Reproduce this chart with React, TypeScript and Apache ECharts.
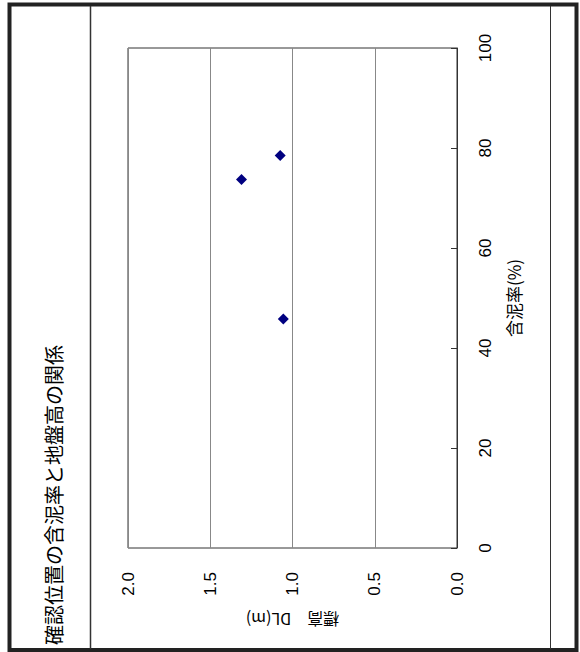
import React, { useEffect, useRef } from "react";
import * as echarts from "echarts";

const titleText = "確認位置の含泥率と地盤高の関係";
const elevation = [1.075, 1.31, 1.056]; // 標高 DL(m)
const mudRate = [78.5, 73.7, 45.8]; // 含泥率(%)
const elevationTicks = [0, 0.5, 1.0, 1.5, 2.0];
const mudTicks = [0, 20, 40, 60, 80, 100];

const NUM_FONT = "'Liberation Sans', Arial, sans-serif";
const JP_FONT = "'Noto Sans CJK JP', sans-serif";

export default function App() {
  const ref = useRef<HTMLDivElement>(null);
  useEffect(() => {
    if (!ref.current) return;
    const chart = echarts.init(ref.current, undefined, { renderer: "svg" });
    const points = elevation.map((e, i) => [e, mudRate[i]]);
    chart.setOption({
      animation: false,
      backgroundColor: "#ffffff",
      grid: {
        left: 128,
        top: 48,
        right: 123,
        bottom: 104,
        show: true,
        borderColor: "#333333",
        borderWidth: 1,
        backgroundColor: "transparent",
      },
      xAxis: {
        type: "value",
        min: elevationTicks[0],
        max: elevationTicks[elevationTicks.length - 1],
        interval: 0.5,
        inverse: true,
        position: "bottom",
        axisLine: { show: false },
        axisTick: { show: false },
        splitLine: { show: true, lineStyle: { color: "#888888", width: 1 } },
        axisLabel: {
          rotate: 90,
          margin: 24,
          fontSize: 17,
          fontFamily: NUM_FONT,
          color: "#000",
          formatter: (v: number) => v.toFixed(1),
        },
        name: "標高　DL(m)",
        nameLocation: "middle",
        nameRotate: 180,
        nameGap: 64,
        nameTextStyle: {
          fontSize: 16,
          fontFamily: JP_FONT,
          color: "#000",
        },
      },
      yAxis: {
        type: "value",
        min: mudTicks[0],
        max: mudTicks[mudTicks.length - 1],
        interval: 20,
        position: "right",
        axisLine: { show: true, lineStyle: { color: "#333333", width: 1 } },
        axisTick: { show: true, inside: true, length: 6, lineStyle: { color: "#333333" } },
        splitLine: { show: false },
        axisLabel: {
          rotate: 90,
          margin: 20,
          fontSize: 17,
          fontFamily: NUM_FONT,
          color: "#000",
        },
        name: "含泥率(%)",
        nameLocation: "middle",
        nameRotate: 90,
        nameGap: 48,
        nameTextStyle: {
          fontSize: 17,
          fontFamily: JP_FONT,
          color: "#000",
        },
      },
      series: [
        {
          type: "scatter",
          data: points,
          symbol: "diamond",
          symbolSize: 11,
          itemStyle: { color: "#000080", opacity: 1 },
        },
      ],
      graphic: [
        {
          type: "rect",
          shape: { x: 9.5, y: 4.5, width: 567, height: 645.5 },
          style: { fill: "none", stroke: "#222222", lineWidth: 4 },
          silent: true,
        },
        {
          type: "line",
          shape: { x1: 90.5, y1: 6, x2: 90.5, y2: 649 },
          style: { stroke: "#333333", lineWidth: 1.5 },
          silent: true,
        },
        {
          type: "line",
          shape: { x1: 550.5, y1: 6, x2: 550.5, y2: 649 },
          style: { stroke: "#333333", lineWidth: 1 },
          silent: true,
        },
        {
          type: "text",
          x: 53,
          y: 645,
          rotation: Math.PI / 2,
          style: {
            text: titleText,
            fontSize: 20,
            fontFamily: JP_FONT,
            fill: "#000",
            align: "left",
            verticalAlign: "middle",
          },
          silent: true,
        },
      ],
    });
    return () => chart.dispose();
  }, []);
  return (
    <div
      ref={ref}
      style={{ position: "fixed", left: 0, top: 0, width: 580, height: 652 }}
    />
  );
}
